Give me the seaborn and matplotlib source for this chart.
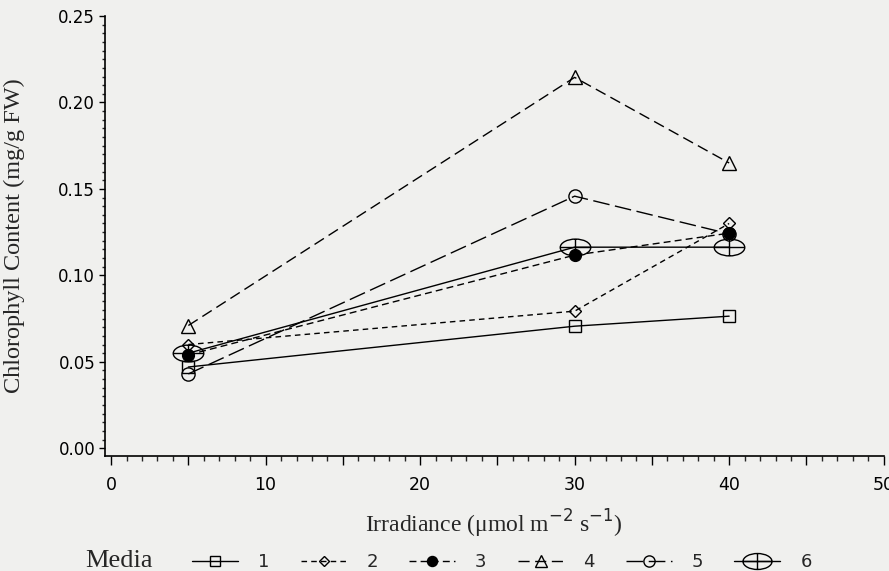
import numpy as np
import pandas as pd
import matplotlib
matplotlib.use("Agg")
import matplotlib.pyplot as plt
import seaborn as sns
from matplotlib.path import Path
from matplotlib.ticker import MultipleLocator, FuncFormatter
from matplotlib.lines import Line2D

irradiance = [5, 30, 40]
media_labels = ["1", "2", "3", "4", "5", "6"]
media1 = [0.047, 0.0706, 0.0764]
media2 = [0.060, 0.0793, 0.130]
media3 = [0.054, 0.1117, 0.1244]
media4 = [0.071, 0.2145, 0.165]
media5 = [0.043, 0.1458, 0.124]
media6 = [0.055, 0.1163, 0.1163]
series = [media1, media2, media3, media4, media5, media6]

rows = []
for lab, vals in zip(media_labels, series):
    for x, y in zip(irradiance, vals):
        rows.append({"Irradiance": x, "Chl": y, "Media": lab})
df = pd.DataFrame(rows)

sns.set_theme(style="ticks")
bg = "#f0f0ee"
plt.rcParams["font.family"] = ["DejaVu Sans"]

# custom ellipse-with-cross marker
circ = Path.unit_circle()
ell = Path(circ.vertices * np.array([1.0, 0.55]), circ.codes)
cross = Path([(-1, 0), (1, 0), (0, -0.55), (0, 0.55)],
             [Path.MOVETO, Path.LINETO, Path.MOVETO, Path.LINETO])
ell_cross = Path.make_compound_path(ell, cross)

styles = {
    "1": dict(marker="s", ms=9, mfc="none", ls="-"),
    "2": dict(marker="D", ms=6.5, mfc="none", ls=(0, (4, 3))),
    "3": dict(marker="o", ms=8.5, mfc="black", ls=(0, (5, 3))),
    "4": dict(marker="^", ms=10, mfc="none", ls=(0, (8, 4))),
    "5": dict(marker="o", ms=9.5, mfc="none", ls=(0, (12, 4))),
    "6": dict(marker=ell_cross, ms=22, mfc="none", ls="-"),
}

fig = plt.figure(figsize=(8.89, 5.71), dpi=100, facecolor=bg)
ax = fig.add_axes([0.118, 0.201, 0.876, 0.771], facecolor=bg)

for lab in media_labels:
    st = styles[lab]
    sub = df[df["Media"] == lab]
    sns.lineplot(data=sub, x="Irradiance", y="Chl", ax=ax, color="black",
                 marker=st["marker"], markersize=st["ms"],
                 markerfacecolor=st["mfc"], markeredgecolor="black",
                 markeredgewidth=1.0, linestyle=st["ls"], linewidth=1.0,
                 legend=False)

ax.set_xlim(-0.4, 50)
ax.set_ylim(-0.0046, 0.25)
ax.xaxis.set_major_locator(MultipleLocator(5))
ax.xaxis.set_minor_locator(MultipleLocator(1))
ax.xaxis.set_major_formatter(FuncFormatter(
    lambda v, p: f"{int(round(v))}" if int(round(v)) % 10 == 0 else ""))
ax.yaxis.set_major_locator(MultipleLocator(0.05))
ax.yaxis.set_minor_locator(MultipleLocator(0.005))
ax.yaxis.set_major_formatter(FuncFormatter(lambda v, p: f"{v:.2f}"))

for s in ["top", "right"]:
    ax.spines[s].set_visible(False)
for s in ["left", "bottom"]:
    ax.spines[s].set_linewidth(1.2)
    ax.spines[s].set_color("black")

ax.tick_params(axis="x", which="major", length=6.5, width=1, direction="out",
               labelsize=12.5, colors="black", pad=8)
ax.tick_params(axis="x", which="minor", length=3.6, width=1, direction="out")
ax.tick_params(axis="y", which="major", length=4, width=1, direction="out",
               labelsize=12, colors="black", pad=3)
ax.tick_params(axis="y", which="minor", length=2.5, width=1, direction="out")

serif = ["Liberation Serif", "DejaVu Serif"]
plt.rcParams["mathtext.fontset"] = "custom"
plt.rcParams["mathtext.rm"] = "Liberation Serif"
ax.set_xlabel("Irradiance (\u03bcmol m$^{\\mathrm{-2}}$ s$^{\\mathrm{-1}}$)",
              family=serif, fontsize=17)
ax.set_ylabel("Chlorophyll Content (mg/g FW)", family=serif, fontsize=17.5)
ax.xaxis.set_label_coords(0.5, -0.117)
ax.yaxis.set_label_coords(-0.102, 0.5)

handles = []
for lab in media_labels:
    st = styles[lab]
    ms = st["ms"] * (0.95 if lab == "6" else 0.85)
    handles.append(Line2D([], [], color="black", marker=st["marker"],
                          markersize=ms, markerfacecolor=st["mfc"],
                          markeredgecolor="black", markeredgewidth=1.0,
                          linestyle=st["ls"], linewidth=1.0))
fig.text(0.0956, 0.018, "Media", family=serif, fontsize=19, va="center")
fig.legend(handles, media_labels, loc="center left",
           bbox_to_anchor=(0.198, 0.016), ncol=6, frameon=False,
           handlelength=2.55, columnspacing=1.72, handletextpad=1.1,
           borderpad=0.4,
           prop={"family": ["Liberation Sans Narrow", "DejaVu Sans"],
                 "size": 13})

fig.savefig("out.png", dpi=100, facecolor=bg)
